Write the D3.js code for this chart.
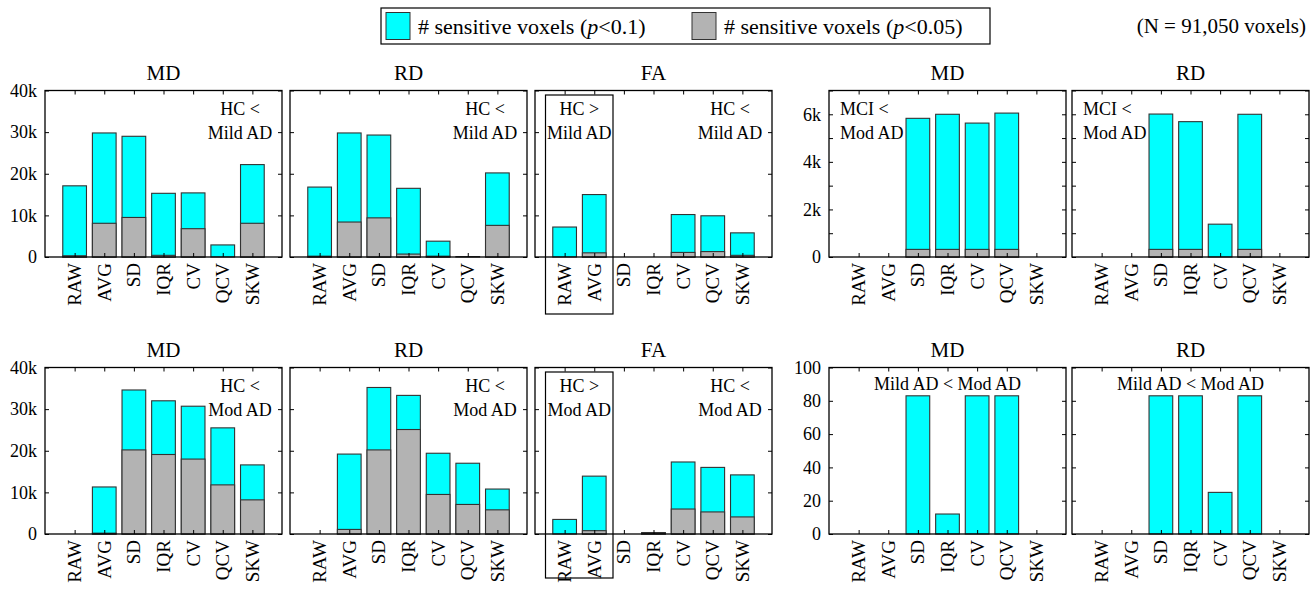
<!DOCTYPE html>
<html>
<head>
<meta charset="utf-8">
<script src="https://cdn.jsdelivr.net/npm/d3@7/dist/d3.min.js"></script>
<style>
  html, body { margin: 0; padding: 0; background: #fff; }
  svg text { font-family: "Liberation Serif", "Times New Roman", serif; fill: #000; }
</style>
</head>
<body>
<svg id="chart" width="1316" height="590"></svg>
<script>
// ---------------- DATA ----------------
const categories = ["RAW", "AVG", "SD", "IQR", "CV", "QCV", "SKW"];
const titles = ["MD", "RD", "FA", "MD", "RD"];

// Row 1: HC vs Mild AD (MD, RD, FA) and MCI vs Mod AD (MD, RD)
const mdHcMild_p10 = [17100, 29800, 29000, 15300, 15400, 2900, 22200];
const mdHcMild_p05 = [300, 8100, 9500, 400, 6800, 0, 8100];
const rdHcMild_p10 = [16800, 29800, 29300, 16500, 3800, 100, 20200];
const rdHcMild_p05 = [200, 8400, 9400, 700, 200, 0, 7600];
const faHcMild_p10 = [7200, 15000, 0, 0, 10200, 9900, 5800];
const faHcMild_p05 = [0, 1000, 0, 0, 1100, 1300, 400];
const mdMciMod_p10 = [0, 0, 5830, 6000, 5630, 6050, 0];
const mdMciMod_p05 = [0, 0, 320, 320, 320, 320, 0];
const rdMciMod_p10 = [0, 0, 6010, 5690, 1380, 6000, 0];
const rdMciMod_p05 = [0, 0, 320, 320, 0, 320, 0];

// Row 2: HC vs Mod AD (MD, RD, FA) and Mild AD vs Mod AD (MD, RD)
const mdHcMod_p10 = [0, 11300, 34600, 32000, 30700, 25500, 16600];
const mdHcMod_p05 = [0, 200, 20200, 19100, 18000, 11800, 8200];
const rdHcMod_p10 = [0, 19200, 35200, 33300, 19400, 17000, 10800];
const rdHcMod_p05 = [0, 1100, 20200, 25100, 9500, 7100, 5800];
const faHcMod_p10 = [3500, 13900, 0, 350, 17300, 16000, 14200];
const faHcMod_p05 = [0, 800, 0, 200, 6000, 5300, 4100];
const mdMildMod_p10 = [0, 0, 83, 12, 83, 83, 0];
const mdMildMod_p05 = [0, 0, 0, 0, 0, 0, 0];
const rdMildMod_p10 = [0, 0, 83, 83, 25, 83, 0];
const rdMildMod_p05 = [0, 0, 0, 0, 0, 0, 0];

// Y axes
const yMaxLarge = 40000, yTicksLarge = [0, 10000, 20000, 30000, 40000];
const yLabelsLarge = ["0", "10k", "20k", "30k", "40k"];
const yMaxMci = 7000, yTicksMci = [0, 1000, 2000, 3000, 4000, 5000, 6000, 7000];
const yLabelsMci = ["0", "", "2k", "", "4k", "", "6k", ""];
const yMaxMild = 100, yTicksMild = [0, 20, 40, 60, 80, 100];
const yLabelsMild = ["0", "20", "40", "60", "80", "100"];

const legendLabels = ["# sensitive voxels (", "p", "<0.1)", "# sensitive voxels (", "p", "<0.05)"];
const noteN = "(N = 91,050 voxels)";

// ---------------- LAYOUT ----------------
const svg = d3.select("#chart");
const colLeft = [45, 290, 535, 829, 1072];
const panelW = 237;
const rowTop = [90.5, 367.5];
const rowBottom = [257, 534];
const boxBottomOffset = [57, 44];
const CYAN = "#00FFFF", GRAY = "#B3B3B3", EDGE = "#333333";

const panels = [
  { row: 0, col: 0, p10: mdHcMild_p10, p05: mdHcMild_p05, ymax: yMaxLarge, ticks: yTicksLarge, labels: yLabelsLarge, right: ["HC <", "Mild AD"] },
  { row: 0, col: 1, p10: rdHcMild_p10, p05: rdHcMild_p05, ymax: yMaxLarge, ticks: yTicksLarge, labels: null, right: ["HC <", "Mild AD"] },
  { row: 0, col: 2, p10: faHcMild_p10, p05: faHcMild_p05, ymax: yMaxLarge, ticks: yTicksLarge, labels: null, right: ["HC <", "Mild AD"], boxed: ["HC >", "Mild AD"] },
  { row: 0, col: 3, p10: mdMciMod_p10, p05: mdMciMod_p05, ymax: yMaxMci, ticks: yTicksMci, labels: yLabelsMci, left: ["MCI <", "Mod AD"] },
  { row: 0, col: 4, p10: rdMciMod_p10, p05: rdMciMod_p05, ymax: yMaxMci, ticks: yTicksMci, labels: null, left: ["MCI <", "Mod AD"] },
  { row: 1, col: 0, p10: mdHcMod_p10, p05: mdHcMod_p05, ymax: yMaxLarge, ticks: yTicksLarge, labels: yLabelsLarge, right: ["HC <", "Mod AD"] },
  { row: 1, col: 1, p10: rdHcMod_p10, p05: rdHcMod_p05, ymax: yMaxLarge, ticks: yTicksLarge, labels: null, right: ["HC <", "Mod AD"] },
  { row: 1, col: 2, p10: faHcMod_p10, p05: faHcMod_p05, ymax: yMaxLarge, ticks: yTicksLarge, labels: null, right: ["HC <", "Mod AD"], boxed: ["HC >", "Mod AD"] },
  { row: 1, col: 3, p10: mdMildMod_p10, p05: mdMildMod_p05, ymax: yMaxMild, ticks: yTicksMild, labels: yLabelsMild, center: ["Mild AD < Mod AD"] },
  { row: 1, col: 4, p10: rdMildMod_p10, p05: rdMildMod_p05, ymax: yMaxMild, ticks: yTicksMild, labels: null, center: ["Mild AD < Mod AD"] },
];

panels.forEach(p => {
  const left = colLeft[p.col], right = left + panelW;
  const top = rowTop[p.row], bottom = rowBottom[p.row];
  const x = d3.scaleLinear().domain([0, categories.length + 1]).range([left, right]);
  const y = d3.scaleLinear().domain([0, p.ymax]).range([bottom, top]);
  const g = svg.append("g");
  const idx = categories.map((c, i) => i);
  const bw = x(0.8) - x(0);

  // bars: p<0.1 (cyan) with p<0.05 (gray) overlaid
  g.selectAll("rect.c").data(idx.filter(i => p.p10[i] > 0)).join("rect")
    .attr("x", i => x(i + 1) - bw / 2).attr("width", bw)
    .attr("y", i => y(p.p10[i])).attr("height", i => y(0) - y(p.p10[i]))
    .attr("fill", CYAN).attr("stroke", EDGE).attr("stroke-width", 1.1);
  g.selectAll("rect.g").data(idx.filter(i => p.p05[i] > 0)).join("rect")
    .attr("x", i => x(i + 1) - bw / 2).attr("width", bw)
    .attr("y", i => y(p.p05[i])).attr("height", i => y(0) - y(p.p05[i]))
    .attr("fill", GRAY).attr("stroke", EDGE).attr("stroke-width", 1.1);

  // axes (inward ticks)
  const tickVals = categories.map((c, i) => i + 1);
  const axL = g.append("g").attr("transform", `translate(${left},0)`)
    .call(d3.axisLeft(y).tickValues(p.ticks).tickSize(-4).tickPadding(8)
      .tickFormat((d, i) => p.labels ? p.labels[i] : ""));
  const axR = g.append("g").attr("transform", `translate(${right},0)`)
    .call(d3.axisRight(y).tickValues(p.ticks).tickSize(-4).tickFormat(""));
  const axT = g.append("g").attr("transform", `translate(0,${top})`)
    .call(d3.axisTop(x).tickValues(tickVals).tickSize(-4).tickFormat(""));
  const axB = g.append("g").attr("transform", `translate(0,${bottom})`)
    .call(d3.axisBottom(x).tickValues(tickVals).tickSize(-4).tickFormat(""));
  [axL, axR, axT, axB].forEach(a => {
    a.select(".domain").remove();
    a.selectAll("line").attr("stroke", "#000").attr("stroke-width", 1);
    a.selectAll("text").style("font-family", "Liberation Serif").style("font-size", "18px").attr("fill", "#000");
  });

  // category labels
  g.selectAll("text.cat").data(idx).join("text")
    .attr("transform", i => `translate(${x(i + 1)},${bottom + 6}) rotate(-90)`)
    .attr("text-anchor", "end").attr("dominant-baseline", "central")
    .style("font-size", "19px").text(i => categories[i]);

  // frame
  g.append("rect").attr("x", left).attr("y", top).attr("width", panelW).attr("height", bottom - top)
    .attr("fill", "none").attr("stroke", "#000").attr("stroke-width", 1.3);

  // title
  g.append("text").attr("x", (left + right) / 2).attr("y", p.row === 0 ? 80 : 357)
    .attr("text-anchor", "middle").style("font-size", "21px").text(titles[p.col]);

  // annotations
  const lineYs = [top + 18.5, top + 42];
  const addLines = (lines, xpos, anchor) => {
    lines.forEach((t, k) => {
      g.append("text").attr("x", xpos).attr("y", lineYs[k]).attr("text-anchor", anchor)
        .attr("dominant-baseline", "central").style("font-size", "18px").text(t);
    });
  };
  if (p.right) addLines(p.right, right - 42, "middle");
  if (p.left) addLines(p.left, left + 11, "start");
  if (p.center) {
    g.append("text").attr("x", (left + right) / 2).attr("y", top + 16).attr("text-anchor", "middle")
      .attr("dominant-baseline", "central").style("font-size", "18px").text(p.center[0]);
  }
  if (p.boxed) {
    const bx0 = left + 10.5, bx1 = left + 78;
    g.append("rect").attr("x", bx0).attr("y", top + 4.5).attr("width", bx1 - bx0)
      .attr("height", bottom + boxBottomOffset[p.row] - (top + 4.5))
      .attr("fill", "none").attr("stroke", "#000").attr("stroke-width", 1.2);
    addLines(p.boxed, (bx0 + bx1) / 2, "middle");
  }
});

// ---------------- LEGEND ----------------
const lg = svg.append("g");
lg.append("rect").attr("x", 381).attr("y", 8).attr("width", 609).attr("height", 36)
  .attr("fill", "#fff").attr("stroke", "#000").attr("stroke-width", 1.2);
[[386, CYAN, 0], [692, GRAY, 3]].forEach(([sx, col, li]) => {
  lg.append("rect").attr("x", sx).attr("y", 12.5).attr("width", 24).attr("height", 27)
    .attr("fill", col).attr("stroke", EDGE).attr("stroke-width", 1);
  const t = lg.append("text").attr("x", sx + 32).attr("y", 26).attr("dominant-baseline", "central")
    .style("font-size", "22px");
  t.append("tspan").text(legendLabels[li]);
  t.append("tspan").style("font-style", "italic").text(legendLabels[li + 1]);
  t.append("tspan").text(legendLabels[li + 2]);
});
svg.append("text").attr("x", 1306).attr("y", 26).attr("text-anchor", "end")
  .attr("dominant-baseline", "central").style("font-size", "21px").text(noteN);
</script>
</body>
</html>
